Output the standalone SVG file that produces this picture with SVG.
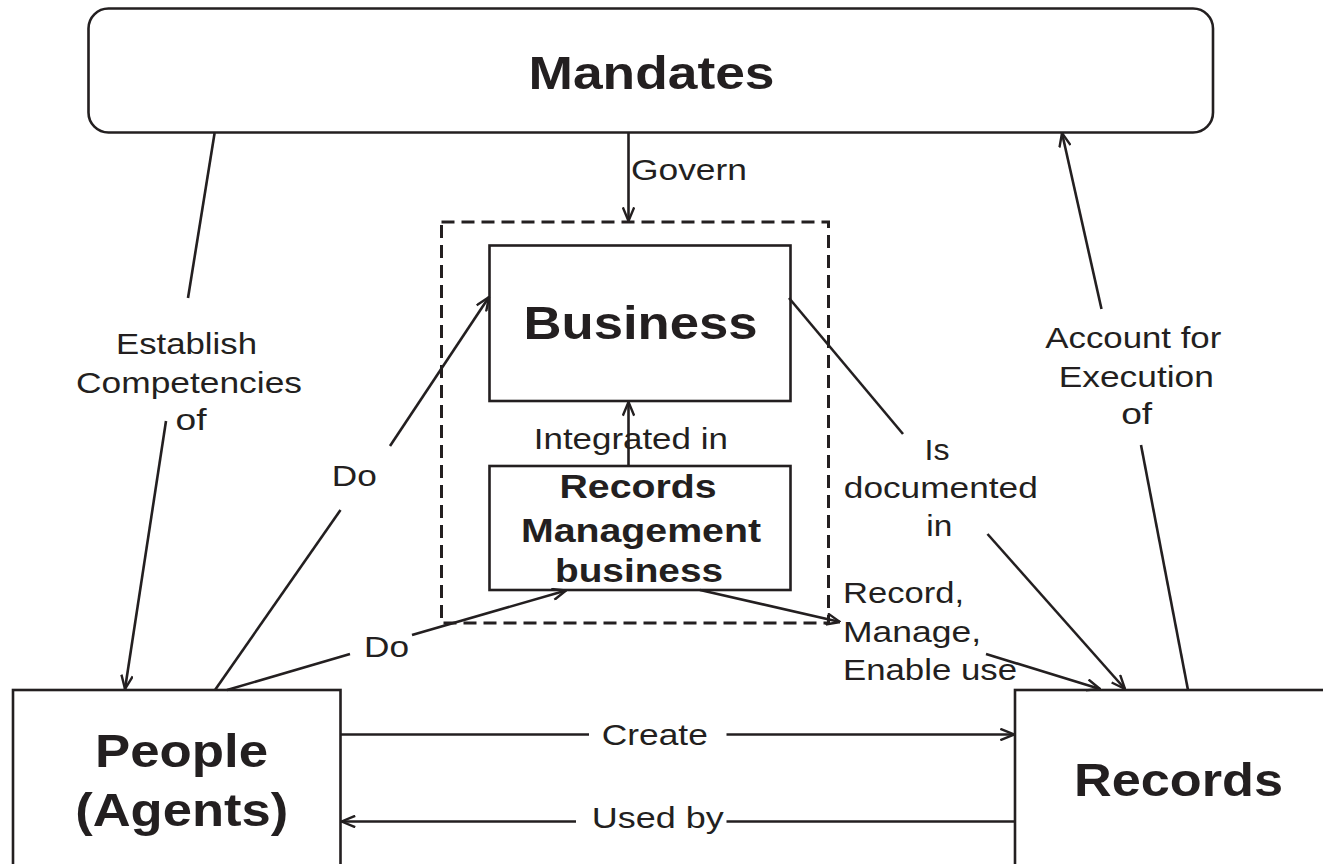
<svg xmlns="http://www.w3.org/2000/svg" width="1323" height="864" viewBox="0 0 1323 864">
<defs>
<style>
.box{fill:#fff;stroke:#231f20;stroke-width:2.6}
.dash{fill:none;stroke:#231f20;stroke-width:3;stroke-dasharray:13 7}
.c{fill:none;stroke:#231f20;stroke-width:2.6}
.a{marker-end:url(#arr)}
.n{font-family:"Liberation Sans",Arial,sans-serif;font-weight:bold;fill:#231f20;text-anchor:middle}
.big{font-size:46px}
.mid{font-size:34px}
.l{font-family:"Liberation Sans",Arial,sans-serif;font-size:29.5px;fill:#231f20;text-anchor:middle}
.ls{font-family:"Liberation Sans",Arial,sans-serif;font-size:29.5px;fill:#231f20;text-anchor:start}
</style>
<marker id="arr" viewBox="0 0 15 13" refX="14.5" refY="6.5" markerWidth="15" markerHeight="13" markerUnits="userSpaceOnUse" orient="auto">
<path d="M0.8,0.8 L14.5,6.5 L0.8,12.2" fill="none" stroke="#231f20" stroke-width="2.4"/>
</marker>
</defs>
<rect width="1323" height="864" fill="#fff"/>

<g id="mandates">
<rect class="box" x="88.5" y="8.5" width="1124.5" height="124" rx="20" ry="20"/>
<text class="n big" x="651.5" y="89" textLength="246" lengthAdjust="spacingAndGlyphs">Mandates</text>
</g>

<g id="rm-group">
<rect class="dash" x="441.5" y="222" width="387" height="401"/>
</g>

<g id="business">
<rect class="box" x="489.5" y="245.5" width="301" height="155.5"/>
<text class="n big" x="640.5" y="339" textLength="234" lengthAdjust="spacingAndGlyphs">Business</text>
</g>

<g id="rm-business">
<rect class="box" x="489.5" y="466" width="301" height="124"/>
<text class="n mid" x="638" y="498" textLength="157" lengthAdjust="spacingAndGlyphs">Records</text>
<text class="n mid" x="641" y="541.5" textLength="240" lengthAdjust="spacingAndGlyphs">Management</text>
<text class="n mid" x="639" y="582" textLength="168" lengthAdjust="spacingAndGlyphs">business</text>
</g>

<g id="people">
<rect class="box" x="13" y="690" width="327.5" height="190"/>
<text class="n big" x="181.5" y="766.5" textLength="173" lengthAdjust="spacingAndGlyphs">People</text>
<text class="n big" x="181.7" y="825.5" textLength="213" lengthAdjust="spacingAndGlyphs">(Agents)</text>
</g>

<g id="records">
<rect class="box" x="1015" y="690" width="330" height="190"/>
<text class="n big" x="1178.5" y="795.5" textLength="209" lengthAdjust="spacingAndGlyphs">Records</text>
</g>

<g id="connectors">
<line class="c a" x1="628.5" y1="133" x2="628.5" y2="221"/>
<line class="c a" x1="628.5" y1="466" x2="628.5" y2="402"/>
<line class="c" x1="214.6" y1="133" x2="188" y2="298"/>
<line class="c a" x1="166" y1="421" x2="125" y2="689"/>
<line class="c" x1="215" y1="690" x2="340.5" y2="510"/>
<line class="c a" x1="390" y1="446" x2="489" y2="297"/>
<line class="c" x1="227" y1="690" x2="350" y2="654"/>
<line class="c a" x1="412" y1="635" x2="566" y2="590.5"/>
<line class="c a" x1="700" y1="590" x2="840" y2="622"/>
<line class="c a" x1="986" y1="654" x2="1100" y2="689"/>
<line class="c" x1="789" y1="298" x2="903" y2="434"/>
<line class="c a" x1="987.5" y1="534" x2="1125" y2="689"/>
<line class="c" x1="1141" y1="445" x2="1188" y2="690"/>
<line class="c a" x1="1101.5" y1="309" x2="1062" y2="133"/>
<line class="c" x1="340.5" y1="734.5" x2="589" y2="734.5"/>
<line class="c a" x1="726.5" y1="734.5" x2="1014" y2="734.5"/>
<line class="c" x1="1015" y1="821.5" x2="726.5" y2="821.5"/>
<line class="c a" x1="576" y1="821.5" x2="341.5" y2="821.5"/>
</g>

<g id="labels">
<text class="ls" x="631" y="180" textLength="116" lengthAdjust="spacingAndGlyphs">Govern</text>
<text class="l" x="186.5" y="354" textLength="141" lengthAdjust="spacingAndGlyphs">Establish</text>
<text class="l" x="189" y="392.5" textLength="226" lengthAdjust="spacingAndGlyphs">Competencies</text>
<text class="l" x="191" y="430" textLength="31" lengthAdjust="spacingAndGlyphs">of</text>
<text class="l" x="354.3" y="486" textLength="45" lengthAdjust="spacingAndGlyphs">Do</text>
<text class="l" x="386.5" y="656.5" textLength="45" lengthAdjust="spacingAndGlyphs">Do</text>
<text class="l" x="630.8" y="449.3" textLength="194" lengthAdjust="spacingAndGlyphs">Integrated in</text>
<text class="l" x="937" y="460" textLength="25" lengthAdjust="spacingAndGlyphs">Is</text>
<text class="l" x="940.8" y="498" textLength="194" lengthAdjust="spacingAndGlyphs">documented</text>
<text class="l" x="939.3" y="536" textLength="26" lengthAdjust="spacingAndGlyphs">in</text>
<text class="l" x="1133.3" y="348.3" textLength="176" lengthAdjust="spacingAndGlyphs">Account for</text>
<text class="l" x="1136.3" y="387.3" textLength="155" lengthAdjust="spacingAndGlyphs">Execution</text>
<text class="l" x="1136.7" y="424" textLength="31" lengthAdjust="spacingAndGlyphs">of</text>
<text class="ls" x="843" y="603.3" textLength="121" lengthAdjust="spacingAndGlyphs">Record,</text>
<text class="ls" x="843" y="641.7" textLength="138" lengthAdjust="spacingAndGlyphs">Manage,</text>
<text class="ls" x="843" y="680" textLength="174" lengthAdjust="spacingAndGlyphs">Enable use</text>
<text class="l" x="654.8" y="745" textLength="106" lengthAdjust="spacingAndGlyphs">Create</text>
<text class="l" x="657.8" y="828.3" textLength="132" lengthAdjust="spacingAndGlyphs">Used by</text>
</g>
</svg>
